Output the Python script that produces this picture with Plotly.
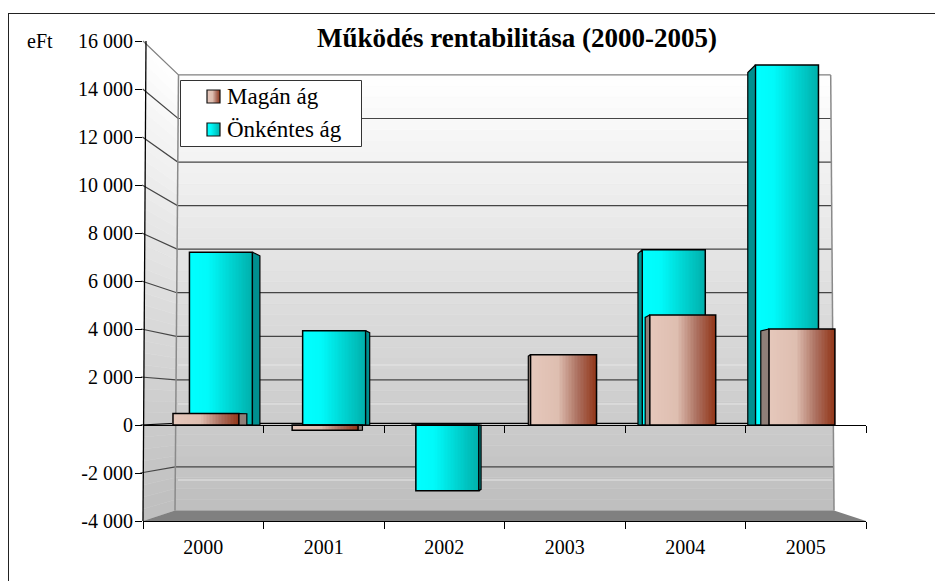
import plotly.graph_objects as go

years = ["2000", "2001", "2002", "2003", "2004", "2005"]
magan = [480, -220, 0, 2930, 4580, 4000]
onkentes = [7200, 3930, -2740, 0, 7300, 15000]
y_ticks = [-4000, -2000, 0, 2000, 4000, 6000, 8000, 10000, 12000, 14000, 16000]
y_labels = ["-4 000", "-2 000", "0", "2 000", "4 000", "6 000", "8 000", "10 000", "12 000", "14 000", "16 000"]
legend_names = ["Magán ág", "Önkéntes ág"]

W, H = 935, 581
L, R, T, B = 143, 866, 41, 521
FONT = "Liberation Serif"
UNIT = (R - L) / 6


def fx(p):
    return (p - L) / (R - L)


def fy(p):
    return (B - p) / (B - T)


def back_y(v):
    return 423.4 - 21.78 * v / 1000


def back_lx(v):
    return 175 + (v + 4000) / 20000 * 3.5


def back_rx(v):
    return 834 - (v + 4000) / 20000 * 3.3


def front_lx(v):
    return 143 + (v + 4000) / 20000 * 3


def front_y(v):
    return B - (v + 4000) / 20000 * (B - T)


def poly(points):
    return "M " + " L ".join(f"{fx(a):.5f},{fy(b):.5f}" for a, b in points) + " Z"


def ramp(stops, t):
    for (t0, c0), (t1, c1) in zip(stops, stops[1:]):
        if t0 <= t <= t1:
            u = (t - t0) / (t1 - t0)
            r = [round(p + (q - p) * u) for p, q in zip(c0, c1)]
            return f"rgb({r[0]},{r[1]},{r[2]})"
    return "rgb(0,0,0)"


CY = [(0, (0, 255, 255)), (0.3, (0, 250, 250)), (1, (0, 176, 172))]
MA = [(0, (230, 200, 188)), (0.42, (222, 190, 176)), (0.72, (172, 112, 96)), (1, (146, 54, 24))]

shapes = []
# walls with a vertical gradient, as thin bands
band = 500
for v in range(-4000, 16000, band):
    g = round(190 + (v + band / 2 + 4000) / 20000 * 65)
    col = f"rgb({g},{g},{g})"
    shapes.append(dict(type="path", xref="paper", yref="paper", layer="below", line=dict(width=0.5, color=col), fillcolor=col,
                       path=poly([(back_lx(v), back_y(v)), (back_rx(v), back_y(v)), (back_rx(v + band), back_y(v + band)), (back_lx(v + band), back_y(v + band))])))
    shapes.append(dict(type="path", xref="paper", yref="paper", layer="below", line=dict(width=0.5, color=col), fillcolor=col,
                       path=poly([(front_lx(v), front_y(v)), (back_lx(v), back_y(v)), (back_lx(v + band), back_y(v + band)), (front_lx(v + band), front_y(v + band))])))
# floor
shapes.append(dict(type="path", xref="paper", yref="paper", layer="below", line=dict(width=0), fillcolor="#808080",
                   path=poly([(L, B), (175, 510.5), (834, 510.5), (R, B)])))
# faint gradient steps
for py in (365, 404, 480):
    shapes.append(dict(type="line", xref="paper", yref="paper", layer="below", x0=fx(178), x1=fx(832), y0=fy(py), y1=fy(py),
                       line=dict(color="#e6e6e6", width=1)))
# receding gridlines
for v in y_ticks:
    col = "#808080" if v == 16000 else ("#000000" if v == 0 else "#454545")
    if v == -4000:
        continue
    shapes.append(dict(type="path", xref="paper", yref="paper", layer="below", line=dict(color=col, width=1.2),
                       path="M " + " L ".join(f"{fx(a):.5f},{fy(b):.5f}" for a, b in [(front_lx(v) - 3, front_y(v)), (back_lx(v), back_y(v)), (back_rx(v), back_y(v))])))
# wall edges
for pts in ([(back_lx(-4000), back_y(-4000)), (back_lx(16000), back_y(16000))], [(back_rx(-4000), back_y(-4000)), (back_rx(16000), back_y(16000))]):
    shapes.append(dict(type="line", xref="paper", yref="paper", layer="below", x0=fx(pts[0][0]), y0=fy(pts[0][1]), x1=fx(pts[1][0]), y1=fy(pts[1][1]),
                       line=dict(color="#8a8a8a", width=1.5)))
# sloped axis line
shapes.append(dict(type="line", xref="paper", yref="paper", x0=fx(146), y0=1, x1=0, y1=0, line=dict(color="#000000", width=1.3)))
# chart frame (left and top only are on the page)
shapes.append(dict(type="line", xref="paper", yref="paper", x0=fx(8.5), x1=fx(8.5), y0=fy(13), y1=fy(581), line=dict(color="#222222", width=1)))
shapes.append(dict(type="line", xref="paper", yref="paper", x0=fx(8), x1=fx(935), y0=fy(13.5), y1=fy(13.5), line=dict(color="#222222", width=1)))

# legend box, swatches
shapes.append(dict(type="rect", xref="paper", yref="paper", x0=fx(180.5), x1=fx(361.5), y0=fy(80.5), y1=fy(146.5),
                   fillcolor="#ffffff", line=dict(color="#333333", width=1)))
annotations = [dict(text="eFt", xref="paper", yref="paper", x=fx(40), y=fy(41), xanchor="center", yanchor="middle", showarrow=False,
                    font=dict(size=20, family=FONT))]
for name, stops, top in zip(legend_names, (MA, CY), (90, 123)):
    m = 13
    for k in range(m):
        shapes.append(dict(type="rect", xref="paper", yref="paper", x0=fx(207 + k), x1=fx(208 + k), y0=fy(top), y1=fy(top + 13),
                           fillcolor=ramp(stops, (k + 0.5) / m), line=dict(width=0)))
    shapes.append(dict(type="rect", xref="paper", yref="paper", x0=fx(207), x1=fx(220), y0=fy(top), y1=fy(top + 13),
                       line=dict(color="#111111", width=1.2)))
    annotations.append(dict(text=name, xref="paper", yref="paper", x=fx(227), y=fy(top + 6.5), xanchor="left", yanchor="middle", showarrow=False,
                            xshift=-2, font=dict(size=23, family=FONT)))

fig = go.Figure()
idx = list(range(len(years)))


def add_series(name, values, a, b, width, stops, side_col):
    centre = [a + b * i for i in idx]
    # side faces recede toward the chart's vanishing line
    xs, ys = [], []
    for c, v in zip(centre, values):
        if v == 0:
            continue
        lx = c - width / 2
        rx = c + width / 2
        lp = L + (lx + 0.5) * UNIT
        rp = L + (rx + 0.5) * UNIT
        edge = rx if (500 - rp) > (lp - 500) else lx
        edge_p = L + (edge + 0.5) * UNIT
        dp = 0.03 * (500 - edge_p)
        if abs(dp) < 2.2:
            dp = 2.2 if dp >= 0 else -2.2
        d = dp / UNIT
        xs += [edge, edge + d, edge + d, edge, edge, None]
        ys += [v, v * 0.979, 0, 0, v, None]
    fig.add_trace(go.Scatter(x=xs, y=ys, mode="lines", fill="toself", fillcolor=side_col, line=dict(color="#000000", width=1.2),
                             name=name, showlegend=False, hoverinfo="skip"))
    # front faces: horizontal gradient from slices of the same value
    n = 44
    sw = width / n
    for k in range(n):
        fig.add_trace(go.Bar(x=idx, y=values, offset=[c - i - width / 2 + k * sw for c, i in zip(centre, idx)], width=sw * 1.2,
                             marker=dict(color=ramp(stops, (k + 0.5) / n), line=dict(width=0)),
                             name=name, showlegend=False, hoverinfo="skip"))
    fig.add_trace(go.Bar(x=idx, y=values, offset=[c - i - width / 2 for c, i in zip(centre, idx)], width=width,
                         marker=dict(color="rgba(0,0,0,0)", line=dict(color="#000000", width=1.5)),
                         name=name, showlegend=False, hoverinfo="skip"))


add_series(legend_names[1], onkentes, 0.147, 0.9394, 0.523, CY, "#008f8f")
add_series(legend_names[0], magan, 0.0228, 0.989, 0.548, MA, "#8f7f78")

# carrier for the zero-level axis
fig.add_trace(go.Scatter(x=[None], y=[None], xaxis="x2", showlegend=False, hoverinfo="skip"))

minor = dict(tickmode="linear", tick0=-0.5, dtick=1, ticks="outside", ticklen=7, tickwidth=1, tickcolor="#000000", showgrid=False)
fig.update_layout(
    width=W, height=H, margin=dict(l=L, r=W - R, t=T, b=H - B), barmode="overlay",
    paper_bgcolor="#ffffff", plot_bgcolor="rgba(0,0,0,0)",
    font=dict(family=FONT, size=20, color="#000000"),
    title=dict(text="<b>Működés rentabilitása (2000-2005)</b>", font=dict(family=FONT, size=27), xref="container", yref="container",
               x=517 / W, xanchor="center", y=1 - 38 / H, yanchor="middle"),
    xaxis=dict(range=[-0.5, 5.5], tickmode="array", tickvals=idx, ticktext=years, ticks="", ticklen=0, showgrid=False, zeroline=False,
               showline=True, linecolor="#000000", linewidth=1.3, minor=minor, tickfont=dict(size=20, family=FONT), ticklabelstandoff=8),
    xaxis2=dict(range=[-0.5, 5.5], overlaying="x", anchor="free", position=0.2, side="bottom", showticklabels=False, ticks="", showgrid=False, zeroline=False,
                showline=True, linecolor="#000000", linewidth=1.3, tickmode="array", tickvals=idx, minor=minor),
    yaxis=dict(range=[-4000, 16000], tickmode="array", tickvals=y_ticks, ticktext=y_labels, ticks="outside", ticklen=7, tickwidth=1, tickcolor="#000000",
               showgrid=False, zeroline=False, showline=False, tickfont=dict(size=20, family=FONT), ticklabelstandoff=-2),
    shapes=shapes,
    annotations=annotations,
    showlegend=False,
)
fig.write_html("out.html", config=dict(displayModeBar=False), post_script="document.body.style.margin='0';")
